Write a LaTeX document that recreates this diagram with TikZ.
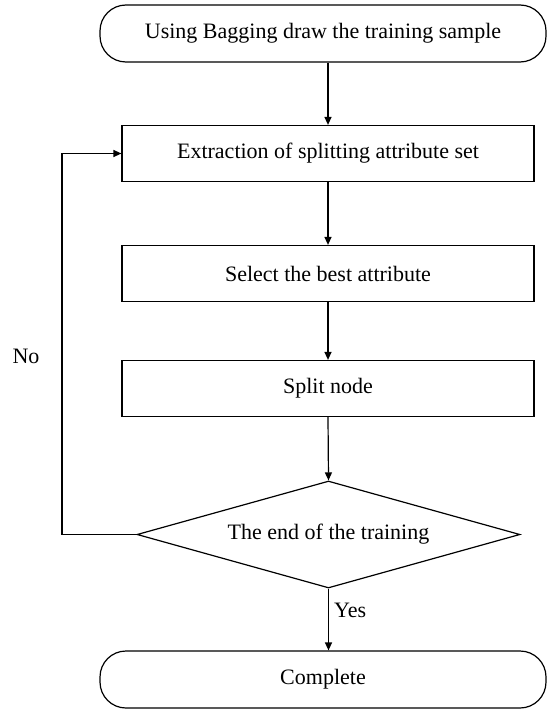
\documentclass[tikz,border=0pt]{standalone}
\usepackage{fontspec}
\setmainfont{Liberation Serif}
\usetikzlibrary{arrows.meta,shapes.geometric}
\begin{document}
\begin{tikzpicture}[x=1pt,y=-1pt,
  every node/.style={font=\fontsize{22}{26}\selectfont, inner sep=0pt},
  term/.style={draw, line width=1.2pt, rounded corners=26pt, minimum width=446pt, minimum height=57pt},
  procbox/.style={draw, line width=1.2pt, minimum width=412pt, minimum height=56pt},
  decision/.style={draw, line width=1.2pt, diamond, aspect=3.58, minimum width=383pt, minimum height=107pt},
  conn/.style={line width=1.2pt, -{Triangle[length=8pt,width=7pt]}},
  lbl/.style={font=\fontsize{22}{26}\selectfont}]
\useasboundingbox (0,0) rectangle (547,709);
\node[term] (start) at (323,33.5) {Using Bagging draw the training sample};
\node[procbox] (extract) at (328,153.5) {Extraction of splitting attribute set};
\node[procbox] (select) at (328,273.5) {Select the best attribute};
\node[procbox] (split) at (328,388.5) {Split node};
\node[decision] (endq) at (328.5,534.5) {The end of the training};
\node[term] (done) at (323,679.5) {Complete};
\coordinate (loopb) at (62,534.5);
\coordinate (loopt) at (62,153.5);
\draw[conn] (start.south -| extract.north) -- (extract.north);
\draw[conn] (extract) -- (select);
\draw[conn] (select) -- (split);
\draw[conn] (split.south) -- (endq.north);
\draw[conn] (endq.south) -- node[lbl, right=5pt, pos=0.35] (yes) {Yes} (done.north -| endq.south);
\draw[conn] (endq.west) -- (loopb) -- (loopt) -- (extract.west);
\node[lbl] (no) at (26,356) {No};
\end{tikzpicture}
\end{document}
